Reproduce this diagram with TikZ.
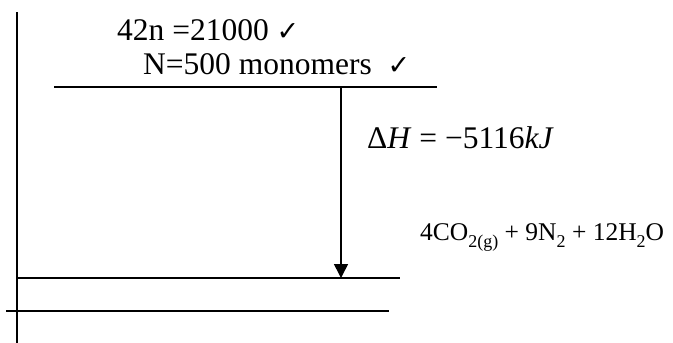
\documentclass[tikz,border=0pt]{standalone}
\usepackage{fontspec}
\setmainfont{Liberation Serif}
\newfontfamily\symfont{DejaVu Sans}
\usetikzlibrary{arrows.meta}
\newcommand{\tick}{\raisebox{0pt}[0pt][0pt]{\symfont\bfseries\fontsize{27}{30}\selectfont ✓}}
\newcommand{\sbs}[1]{\raisebox{-0.3em}{\fontsize{18}{20}\selectfont #1}}
\begin{document}
\begin{tikzpicture}[x=1pt,y=-1pt,
  lvl/.style={line width=1.6pt},
  big/.style={font=\fontsize{31.5}{36}\selectfont, inner sep=0pt, anchor=base west},
  small/.style={font=\fontsize{25.5}{30}\selectfont, inner sep=0pt, anchor=base west},
  enth/.style={line width=1.6pt, -{Triangle[length=14pt,width=14pt]}}]
\useasboundingbox (0,0) rectangle (673,343);
% axis
\coordinate (axT) at (17,12);
\coordinate (axB) at (17,343);
\draw[lvl] (axT) -- (axB);
% levels
\coordinate (r1) at (54,87);  \coordinate (r2) at (437,87);
\coordinate (p1) at (17,278); \coordinate (p2) at (400,278);
\coordinate (b1) at (6,311);  \coordinate (b2) at (389,311);
\draw[lvl] (r1) -- (r2);
\draw[lvl] (p1) -- (p2);
\draw[lvl] (b1) -- (b2);
% arrow
\coordinate (aS) at (341,87);
\coordinate (aE) at (341,278);
\draw[enth] (aS) -- (aE);
% texts
\node[big, text height=21pt, text depth=0pt] (t1) at (117,40) {42n =21000 \tick};
\node[big, text height=21pt, text depth=0pt] (t2) at (143,74) {N=500 monomers\ \ \tick};
\node[big] (dh) at (367,148) {Δ\textit{H} = −5116\textit{kJ}};
\node[small] (fm) at (420,240) {4CO\sbs{2(g)} + 9N\sbs{2} + 12H\sbs{2}O};
\end{tikzpicture}
\end{document}
